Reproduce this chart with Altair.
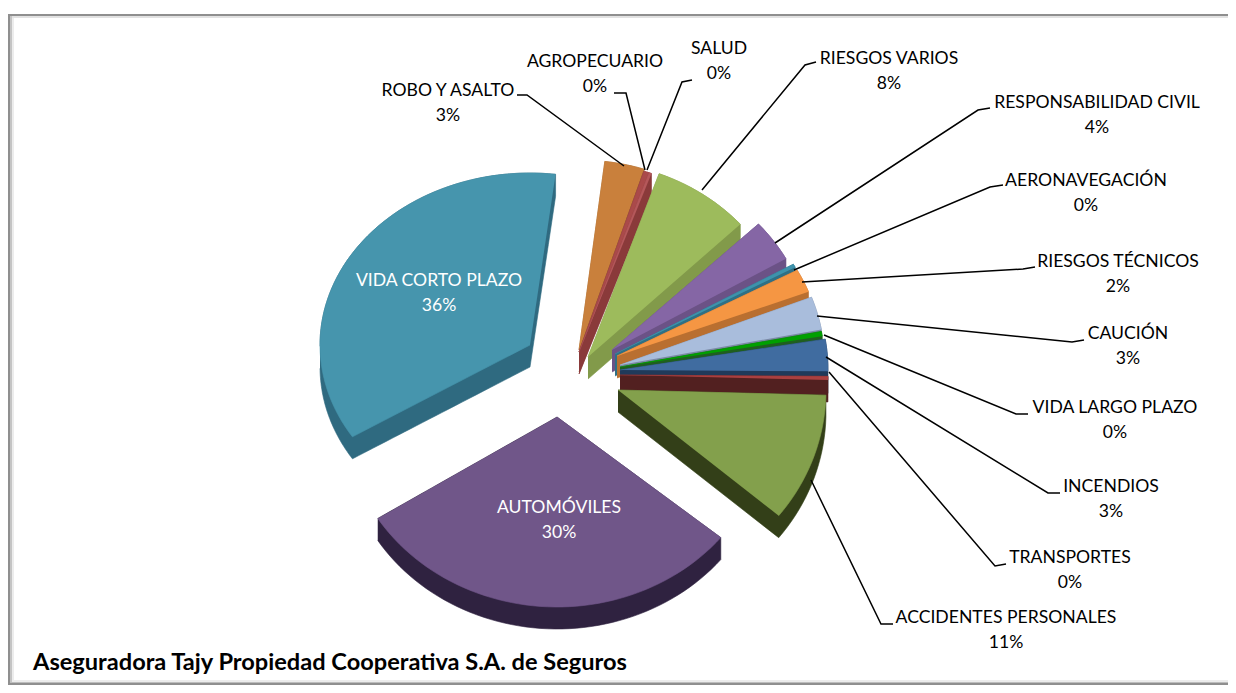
import numpy as np
import pandas as pd
import altair as alt

names = ["ROBO Y ASALTO", "AGROPECUARIO", "SALUD", "RIESGOS VARIOS", "RESPONSABILIDAD CIVIL",
         "AERONAVEGACIÓN", "RIESGOS TÉCNICOS", "CAUCIÓN", "VIDA LARGO PLAZO", "INCENDIOS",
         "TRANSPORTES", "ACCIDENTES PERSONALES", "AUTOMÓVILES", "VIDA CORTO PLAZO"]
shares = [3.0, 0.4, 0.2, 7.5, 3.7, 0.3, 2.1, 2.8, 0.4, 2.7, 0.3, 10.5, 30.0, 35.8]
shown = ["3%", "0%", "0%", "8%", "4%", "0%", "2%", "3%", "0%", "3%", "0%", "11%", "30%", "36%"]
# exploded position of each slice's tip, and the pie's radii seen for that slice
tip_x = [579, 579, 579, 588, 612, 615, 617, 620, 620, 620, 620, 618, 557, 530]
tip_y = [350, 352, 352, 357, 350, 354, 356, 365, 367, 370, 375, 390, 417, 345]
rad_x = [212, 212, 212, 208, 200, 205, 205, 205, 205, 208, 208, 208, 212, 210]
rad_y = [190, 190, 190, 195, 185, 182, 180, 190, 190, 190, 190, 198, 190, 172]
top_col = ["#C9803C", "#AA4A4A", "#B5585A", "#9DBB5C", "#8566A5", "#3E93AC", "#F59643", "#A9BDDC",
           "#00A000", "#406CA0", "#AA4040", "#83A04C", "#705689", "#4695AD"]
side_col = ["#A06A2F", "#8A3A3A", "#8A3A3A", "#829A4A", "#6B5286", "#2F7085", "#B96F30", "#7B8AA5",
            "#1F5F1F", "#203A5A", "#522020", "#333F18", "#2F2240", "#2F6A80"]

# leader lines: label end, elbow, slice end
lead_x = [[517, 527, 624], [614, 626, 645], [692, 682, 647], [816, 805, 702], [990, 978, 775],
          [1003, 990, 794], [1035, 1023, 802], [1084, 1072, 817], [1028, 1016, 824],
          [1060, 1048, 826], [1006, 995, 829], [893, 881, 811]]
lead_y = [[95, 95, 166], [93, 93, 170], [80, 82, 170], [62, 65, 190], [108, 110, 243],
          [185, 187, 270], [267, 269, 282], [340, 342, 316], [414, 414, 335],
          [493, 493, 357], [564, 566, 372], [624, 624, 480]]
label_x = [448, 595, 719, 889, 1097, 1086, 1118, 1128, 1115, 1111, 1070, 1006, 559, 439]
label_y = [91, 62, 49, 59, 103, 181, 262, 334, 408, 487, 558, 618, 508, 281]
footer = "Aseguradora Tajy Propiedad Cooperativa S.A. de Seguros"

FONT = "Lato"
DEPTH, START = 22.0, 7.0

# plot coordinates equal picture coordinates
xs = alt.Scale(domain=[8, 1228], range=[0, 1220])
ys = alt.Scale(domain=[685, 8], range=[677, 0])


def poly(px, py, color, stroke=None):
    df = pd.DataFrame({"x": px, "y": py, "i": range(len(px))})
    return alt.Chart(df).mark_line(fill=color, stroke=stroke or color, strokeWidth=0.6).encode(
        x=alt.X("x:Q", scale=xs, axis=None),
        y=alt.Y("y:Q", scale=ys, axis=None),
        order="i:Q",
    )


def box(x0, x1, y0, y1, color):
    df = pd.DataFrame({"x": [x0], "x2": [x1], "y": [y0], "y2": [y1]})
    return alt.Chart(df).mark_rect(color=color).encode(
        x=alt.X("x:Q", scale=xs, axis=None), x2="x2:Q",
        y=alt.Y("y:Q", scale=ys, axis=None), y2="y2:Q",
    )


layers = [
    box(8, 1228, 14, 16, "#8f8f8f"), box(8, 1228, 16, 18, "#e2e2e2"),
    box(8, 10, 14, 685, "#8f8f8f"), box(10, 12, 16, 685, "#c4c4c4"), box(12, 14, 18, 682, "#ececec"),
    box(12, 1228, 680, 682, "#ececec"), box(10, 1228, 682, 683, "#bdbdbd"), box(8, 1228, 683, 685, "#8f8f8f"),
]

total = sum(shares)
start = START
for k, s in enumerate(shares):
    sweep = s / total * 360.0
    th = np.radians(np.linspace(start, start + sweep, max(3, int(sweep / 2) + 2)))
    start += sweep
    ox = np.r_[tip_x[k], tip_x[k] + rad_x[k] * np.sin(th)]
    oy = np.r_[tip_y[k], tip_y[k] - rad_y[k] * np.cos(th)]
    # silhouette of the slice pushed downwards by the pie's thickness
    cx = np.r_[ox, ox[0]]
    cy = np.r_[oy, oy[0]]
    gx = np.unique(cx)
    lo, hi = [], []
    for g in gx:
        v = []
        for a in range(len(cx) - 1):
            x1, x2, y1, y2 = cx[a], cx[a + 1], cy[a], cy[a + 1]
            if min(x1, x2) <= g <= max(x1, x2):
                if x1 == x2:
                    v += [y1, y2]
                else:
                    v.append(y1 + (g - x1) / (x2 - x1) * (y2 - y1))
        lo.append(min(v))
        hi.append(max(v) + DEPTH)
    layers.append(poly(np.r_[gx, gx[::-1]], np.r_[lo, hi[::-1]], side_col[k]))
    layers.append(poly(ox, oy, top_col[k]))

for a, b in zip(lead_x, lead_y):
    df = pd.DataFrame({"x": a, "y": b, "i": range(len(a))})
    layers.append(alt.Chart(df).mark_line(color="black", strokeWidth=1.5).encode(
        x=alt.X("x:Q", scale=xs, axis=None), y=alt.Y("y:Q", scale=ys, axis=None), order="i:Q"))

rows = []
for k, n in enumerate(names):
    col = "white" if n in ("AUTOMÓVILES", "VIDA CORTO PLAZO") else "black"
    rows.append({"x": label_x[k], "y": label_y[k], "t": n, "c": col})
    rows.append({"x": label_x[k], "y": label_y[k] + 25, "t": shown[k], "c": col})
txt = alt.Chart(pd.DataFrame(rows)).mark_text(font=FONT, fontSize=17.6, baseline="middle", align="center").encode(
    x=alt.X("x:Q", scale=xs, axis=None), y=alt.Y("y:Q", scale=ys, axis=None),
    text="t:N", color=alt.Color("c:N", scale=None))
layers.append(txt)

foot = alt.Chart(pd.DataFrame({"x": [33], "y": [663], "t": [footer]})).mark_text(
    font=FONT, fontSize=23.6, fontWeight="bold", baseline="middle", align="left", color="black").encode(
    x=alt.X("x:Q", scale=xs, axis=None), y=alt.Y("y:Q", scale=ys, axis=None), text="t:N")
layers.append(foot)

chart = alt.layer(*layers).properties(width=1220, height=677, padding=0, background="white").configure_view(stroke=None)
chart.save("out.html", embed_options={"renderer": "svg", "actions": False})
